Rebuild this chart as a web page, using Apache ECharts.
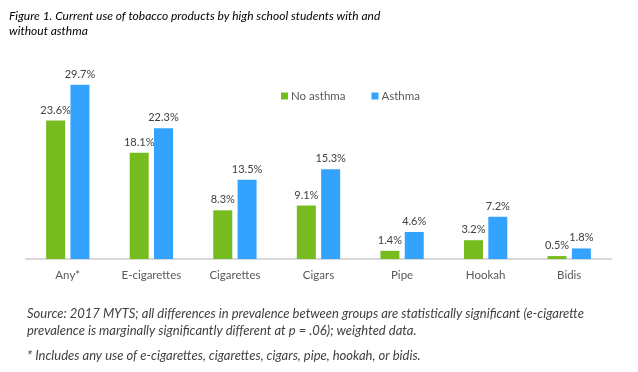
<!DOCTYPE html>
<html><head><meta charset="utf-8">
<script src="https://cdn.jsdelivr.net/npm/echarts@6/dist/echarts.min.js"></script>
<style>html,body{margin:0;padding:0;background:#fff}#c{width:638px;height:372px}</style>
</head><body><div id="c"></div>
<script>
const categories = ['Any*','E-cigarettes','Cigarettes','Cigars','Pipe','Hookah','Bidis'];
const noAsthma = [23.6,18.1,8.3,9.1,1.4,3.2,0.5];
const asthma = [29.7,22.3,13.5,15.3,4.6,7.2,1.8];
const seriesNames = ['No asthma','Asthma'];
const titleLines = ['Figure 1. Current use of tobacco products by high school students with and','without asthma'];
const footnotes = ['Source: 2017 MYTS; all differences in prevalence between groups are statistically significant (e-cigarette','prevalence is marginally significantly different at p = .06); weighted data.','* Includes any use of e-cigarettes, cigarettes, cigars, pipe, hookah, or bidis.'];
const font = 'Lato, "Open Sans", sans-serif';
const chart = echarts.init(document.getElementById('c'));
const lbl = {show:true,position:'top',distance:5,color:'#404040',fontSize:11,fontFamily:font,formatter:p=>p.value.toFixed(1)+'%'};
chart.setOption({
  animation:false,
  title:[
    {text:titleLines.join('\n'),left:4,top:4,textStyle:{fontSize:12,fontStyle:'italic',fontWeight:'normal',color:'#000',fontFamily:font,lineHeight:15}},
    {text:footnotes[0]+'\n'+footnotes[1],left:22,top:300,textStyle:{fontSize:13,fontStyle:'italic',fontWeight:'normal',color:'#404040',fontFamily:font,lineHeight:17}},
    {text:footnotes[2],left:22,top:344,textStyle:{fontSize:13,fontStyle:'italic',fontWeight:'normal',color:'#404040',fontFamily:font}}
  ],
  legend:{data:seriesNames,left:276,top:85,itemWidth:7,itemHeight:7,itemGap:26,icon:'rect',textStyle:{fontSize:11.5,color:'#595959',fontFamily:font,padding:[0,0,0,-2]}},
  grid:{left:26,right:27,top:83,bottom:113,containLabel:false},
  xAxis:{type:'category',data:categories,axisLine:{lineStyle:{color:'#d9d9d9',width:2}},axisTick:{show:false},
    axisLabel:{color:'#595959',fontSize:11.5,fontFamily:font,margin:10}},
  yAxis:{type:'value',min:0,max:30,show:false,splitLine:{show:false}},
  series:[
    {name:seriesNames[0],type:'bar',data:noAsthma,barWidth:19,barGap:'28%',itemStyle:{color:'#77bc1f'},label:lbl},
    {name:seriesNames[1],type:'bar',data:asthma,barWidth:19,itemStyle:{color:'#33a3ff'},label:lbl}
  ]
});
</script></body></html>
